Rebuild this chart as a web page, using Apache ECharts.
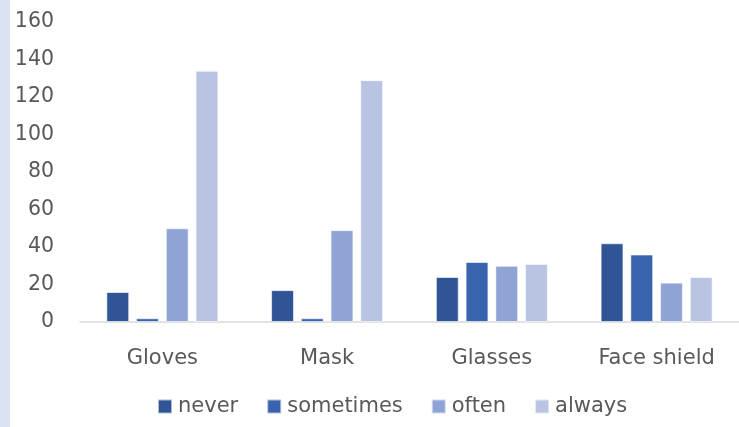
<!DOCTYPE html>
<html><head><meta charset="utf-8">
<script src="https://cdn.jsdelivr.net/npm/echarts@6/dist/echarts.min.js"></script>
<style>
html,body{margin:0;padding:0;background:#fff;}
#c{width:739px;height:427px;background:linear-gradient(to right,#dae3f3 0,#dae3f3 10px,#fff 10px);}
</style></head><body>
<div id="c"></div>
<script>
const categories = ['Gloves', 'Mask', 'Glasses', 'Face shield'];
const seriesNames = ['never', 'sometimes', 'often', 'always'];
const never = [16, 17, 24, 42];
const sometimes = [2, 2, 32, 36];
const often = [50, 49, 30, 21];
const always = [134, 129, 31, 24];
const yTicks = [0, 20, 40, 60, 80, 100, 120, 140, 160];
const colors = ['#2f5597', '#3a63ae', '#8fa4d4', '#b9c4e3'];
const values = [never, sometimes, often, always];

const chart = echarts.init(document.getElementById('c'), null, {renderer: 'canvas'});
const font = '"DejaVu Sans", sans-serif';
chart.setOption({
  animation: false,
  grid: {left: 80, right: 0, top: 22, bottom: 105},
  legend: {
    top: 396, left: 157, padding: 0,
    itemWidth: 14, itemHeight: 14, itemGap: 28,
    icon: 'rect',
    textStyle: {fontFamily: font, fontSize: 21, color: '#595959', padding: [0,0,0,1]},
    data: seriesNames
  },
  xAxis: {
    type: 'category', data: categories,
    axisLine: {lineStyle: {color: '#d9d9d9', width: 1.5}},
    axisTick: {show: false},
    axisLabel: {fontFamily: font, fontSize: 21, color: '#595959', margin: 26}
  },
  yAxis: {
    type: 'value', min: yTicks[0], max: yTicks[yTicks.length-1], interval: 20,
    splitLine: {show: false},
    axisLine: {show: false}, axisTick: {show: false},
    axisLabel: {fontFamily: font, fontSize: 20.5, color: '#595959', margin: 26, padding: [4,0,0,0]}
  },
  series: seriesNames.map((n, i) => ({
    name: n, type: 'bar', data: values[i],
    barGap: '30%', barCategoryGap: '32%',
    itemStyle: {color: colors[i], borderColor: 'rgba(255,255,255,0.6)', borderWidth: 1}
  }))
});
</script></body></html>
